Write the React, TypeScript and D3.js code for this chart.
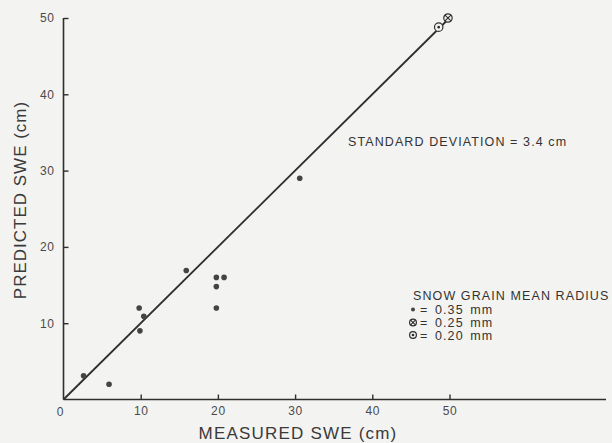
import React, { useEffect, useRef } from "react";
import * as d3 from "d3";

// measured vs predicted SWE (cm)
const grain035X = [2.6, 5.9, 9.8, 10.4, 9.9, 15.9, 19.8, 20.8, 19.8, 19.8, 30.6];
const grain035Y = [3.1, 2.0, 12.0, 10.9, 9.0, 16.9, 16.0, 16.0, 14.8, 12.0, 29.0];
const grain025X = [49.8];
const grain025Y = [50.0];
const grain020X = [48.6];
const grain020Y = [48.8];
const tickValues = [10, 20, 30, 40, 50];
const legendTitle = "SNOW GRAIN MEAN RADIUS";
const legendLabels = ["= 0.35 mm", "= 0.25 mm", "= 0.20 mm"];
const stdText = "STANDARD DEVIATION = 3.4 cm";

const W = 612;
const H = 443;
const ink = "#2e2e2e";
const font = "'Liberation Sans', Arial, sans-serif";

const App = () => {
  const svgRef = useRef<SVGSVGElement>(null);

  useEffect(() => {
    drawChart();
  }, []);

  const drawChart = () => {
    const svg = d3.select(svgRef.current);
    svg.selectAll("*").remove();

    const x = d3.scaleLinear().domain([0, 50]).range([63.5, 449.5]);
    const y = d3.scaleLinear().domain([0, 50]).range([399.5, 18]);

    svg.append("rect").attr("width", W).attr("height", H).attr("fill", "#f3f3f1");

    // axes lines
    svg
      .append("line")
      .attr("x1", x(0))
      .attr("x2", 606)
      .attr("y1", y(0))
      .attr("y2", y(0))
      .attr("stroke", ink)
      .attr("stroke-width", 1.6);
    svg
      .append("line")
      .attr("x1", x(0))
      .attr("x2", x(0))
      .attr("y1", y(0))
      .attr("y2", y(50))
      .attr("stroke", ink)
      .attr("stroke-width", 1.6);

    const xAxis = d3.axisBottom(x).tickValues(tickValues).tickSize(-5).tickPadding(7);
    const yAxis = d3.axisLeft(y).tickValues(tickValues).tickSize(-5).tickPadding(9);

    const gx = svg.append("g").attr("transform", `translate(0, ${y(0)})`).call(xAxis);
    const gy = svg.append("g").attr("transform", `translate(${x(0)}, 0)`).call(yAxis);
    [gx, gy].forEach((g) => {
      g.select(".domain").remove();
      g.selectAll("line").attr("stroke", ink).attr("stroke-width", 1.4);
      g.selectAll("text")
        .attr("fill", "#4a4a4a")
        .style("font-family", font)
        .style("font-size", "12px")
        .style("letter-spacing", "0.6px");
    });

    svg
      .append("text")
      .attr("x", 60)
      .attr("y", 416)
      .attr("text-anchor", "middle")
      .attr("fill", "#4a4a4a")
      .style("font-family", font)
      .style("font-size", "12px")
      .text("0");

    // axis titles
    svg
      .append("text")
      .attr("x", 298)
      .attr("y", 439)
      .attr("text-anchor", "middle")
      .attr("fill", "#3a3a3a")
      .style("font-family", font)
      .style("font-size", "17px")
      .style("letter-spacing", "1.2px")
      .text("MEASURED SWE (cm)");
    svg
      .append("text")
      .attr("transform", "translate(26, 200) rotate(-90)")
      .attr("text-anchor", "middle")
      .attr("fill", "#3a3a3a")
      .style("font-family", font)
      .style("font-size", "17px")
      .style("letter-spacing", "1px")
      .text("PREDICTED SWE (cm)");

    // 1:1 line
    svg
      .append("line")
      .attr("x1", x(0))
      .attr("y1", y(0))
      .attr("x2", x(50))
      .attr("y2", y(50))
      .attr("stroke", ink)
      .attr("stroke-width", 1.8);

    // points
    svg
      .selectAll(".dot")
      .data(grain035X)
      .enter()
      .append("circle")
      .attr("class", "dot")
      .attr("cx", (d) => x(d))
      .attr("cy", (d, i) => y(grain035Y[i]))
      .attr("r", 2.8)
      .attr("fill", "#444");

    const crossed = (g, cx, cy, r) => {
      g.append("circle").attr("cx", cx).attr("cy", cy).attr("r", r).attr("fill", "#f3f3f1").attr("stroke", ink).attr("stroke-width", 1.2);
      const k = r * 0.7;
      g.append("line").attr("x1", cx - k).attr("y1", cy - k).attr("x2", cx + k).attr("y2", cy + k).attr("stroke", ink).attr("stroke-width", 1.1);
      g.append("line").attr("x1", cx - k).attr("y1", cy + k).attr("x2", cx + k).attr("y2", cy - k).attr("stroke", ink).attr("stroke-width", 1.1);
    };
    const dotted = (g, cx, cy, r) => {
      g.append("circle").attr("cx", cx).attr("cy", cy).attr("r", r).attr("fill", "#f3f3f1").attr("stroke", ink).attr("stroke-width", 1.2);
      g.append("circle").attr("cx", cx).attr("cy", cy).attr("r", 1.3).attr("fill", ink);
    };

    const marks = svg.append("g");
    grain020X.forEach((d, i) => dotted(marks, x(d), y(grain020Y[i]), 4.2));
    grain025X.forEach((d, i) => crossed(marks, x(d), y(grain025Y[i]), 4.2));

    // annotation
    svg
      .append("text")
      .attr("x", 348)
      .attr("y", 146)
      .attr("fill", "#333")
      .style("font-family", font)
      .style("font-size", "12.5px")
      .style("letter-spacing", "1.1px")
      .text(stdText);

    // legend
    const lg = svg.append("g");
    lg.append("text")
      .attr("x", 413)
      .attr("y", 299.5)
      .attr("fill", "#333")
      .style("font-family", font)
      .style("font-size", "12.5px")
      .style("letter-spacing", "1.1px")
      .text(legendTitle);
    const rows = [309.5, 322.5, 335];
    legendLabels.forEach((lab, i) => {
      lg.append("text")
        .attr("x", 420)
        .attr("y", rows[i] + 4.5)
        .attr("fill", "#333")
        .style("font-family", font)
        .style("font-size", "12.5px")
        .style("letter-spacing", "1.1px")
        .style("word-spacing", "2px")
        .text(lab);
    });
    lg.append("circle").attr("cx", 413).attr("cy", rows[0]).attr("r", 2).attr("fill", "#444");
    crossed(lg, 413, rows[1], 3.4);
    dotted(lg, 413, rows[2], 3.4);
  };

  return (
    <div style={{ position: "fixed", left: 0, top: 0 }}>
      <svg ref={svgRef} width={W} height={H}></svg>
    </div>
  );
};

export default App;
